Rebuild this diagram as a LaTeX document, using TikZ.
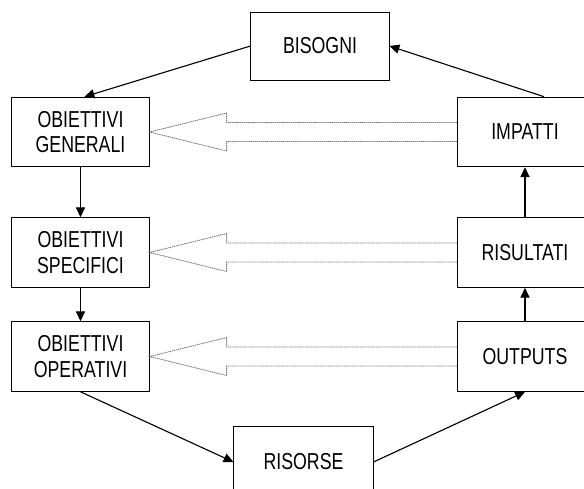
\documentclass[tikz,border=0pt]{standalone}
\usepackage{fontspec}
\setmainfont{Liberation Sans}[FakeStretch=0.77]
\usetikzlibrary{arrows.meta,calc}

\tikzset{
    box/.style={draw, line width=0.7pt, minimum width=3.43cm, minimum height=1.74cm,
        align=center, inner sep=0pt, font=\fontsize{16.4}{18.4}\selectfont},
    flow/.style={-{Triangle[length=7pt,width=6.5pt]}, line width=0.8pt},
    hollow/.style={black!55, line width=0.6pt, dash pattern=on 0.9pt off 0.5pt}
}

\begin{document}
\begin{tikzpicture}[x=0.025cm, y=-0.025cm]
    \clip (0,0) rectangle (584,488);

    % left column
    \node[box] (og) at (80.5,132) {OBIETTIVI\\GENERALI};
    \node[box] (os) at (80.5,252.5) {OBIETTIVI\\SPECIFICI};
    \node[box] (oo) at (80.5,356.5) {OBIETTIVI\\OPERATIVI};

    % right column
    \node[box, minimum width=3.35cm] (impatti) at (525,132) {IMPATTI};
    \node[box, minimum width=3.35cm] (risultati) at (525,252.5) {RISULTATI};
    \node[box, minimum width=3.35cm] (outputs) at (525,356.5) {OUTPUTS};

    % top and bottom
    \node[box, minimum width=3.45cm, minimum height=1.7cm] (bisogni) at (320,46) {BISOGNI};
    \node[box, minimum width=3.475cm, minimum height=1.8cm] (risorse) at (303.5,462) {RISORSE};

    % the cycle
    \draw[flow] (bisogni.west) -- ($(og.north)+(4,0)$);
    \draw[flow] (og.south) -- (os.north);
    \draw[flow] (os.south) -- (oo.north);
    \draw[flow] (oo.south) -- (risorse.west);
    \draw[flow] (risorse.east) -- (outputs.south);
    \draw[flow] (outputs.north) -- (risultati.south);
    \draw[flow] (risultati.north) -- (impatti.south);
    \draw[flow] ($(impatti.north)+(19,0)$) -- (bisogni.east);

    % hollow feedback arrows
    \foreach \l/\r in {og/impatti, os/risultati, oo/outputs}
        \draw[hollow] ($(\r.west)+(0,-9.5)$) -- ($(\l.east)+(77,-9.5)$)
            -- ($(\l.east)+(77,-19)$) -- (\l.east) -- ($(\l.east)+(77,19)$)
            -- ($(\l.east)+(77,9.5)$) -- ($(\r.west)+(0,9.5)$);
\end{tikzpicture}
\end{document}
